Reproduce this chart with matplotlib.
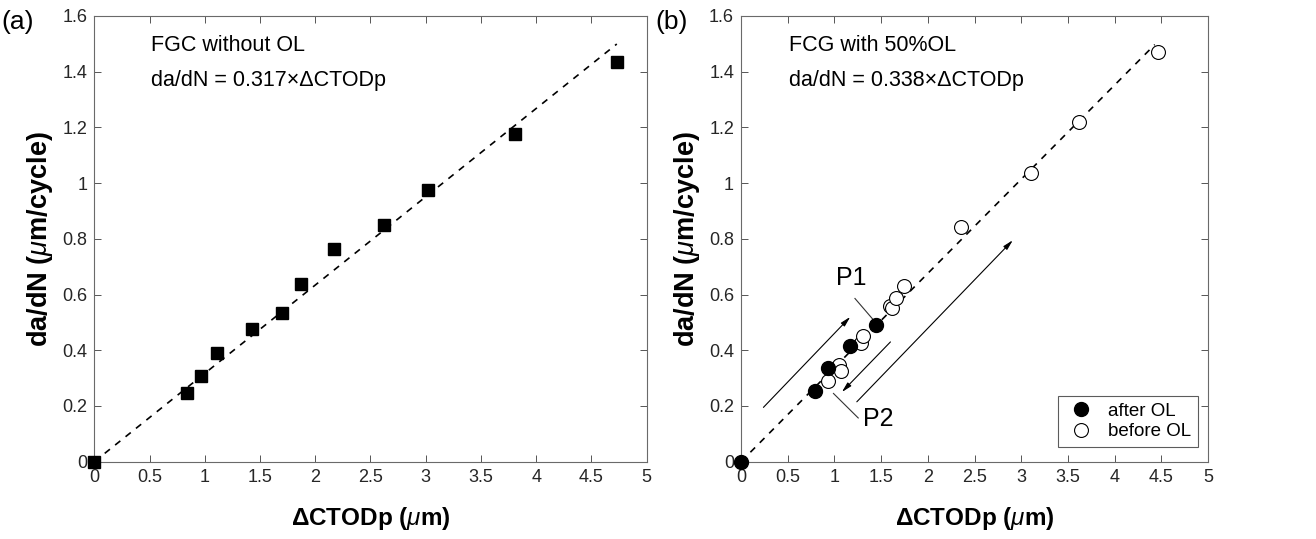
import numpy as np
import matplotlib
matplotlib.use("Agg")
import matplotlib.pyplot as plt

plt.rcParams['font.family'] = ['Liberation Sans', 'DejaVu Sans']
plt.rcParams['mathtext.fontset'] = 'custom'
plt.rcParams['mathtext.it'] = 'Liberation Sans:italic'
plt.rcParams['mathtext.rm'] = 'Liberation Sans'

# ---- data: (a) without overload ----
x_a = [0, 0.84, 0.97, 1.11, 1.43, 1.70, 1.87, 2.17, 2.62, 3.02, 3.81, 4.73]
y_a = [0, 0.245, 0.308, 0.389, 0.475, 0.533, 0.637, 0.765, 0.849, 0.975, 1.175, 1.434]
slope_a = 0.317
fit_a_end = 4.73

# ---- data: (b) with 50% overload ----
x_after = [0, 0.79, 0.935, 1.17, 1.45]
y_after = [0, 0.255, 0.337, 0.414, 0.49]
x_before = [0.935, 1.05, 1.075, 1.29, 1.31, 1.59, 1.615, 1.655, 1.75, 2.355, 3.11, 3.62, 4.465]
y_before = [0.29, 0.347, 0.327, 0.425, 0.452, 0.559, 0.55, 0.589, 0.631, 0.842, 1.035, 1.218, 1.470]
slope_b = 0.338
fit_b_end = 4.43

xticks = [0, 0.5, 1, 1.5, 2, 2.5, 3, 3.5, 4, 4.5, 5]
xticklabels = ['0', '0.5', '1', '1.5', '2', '2.5', '3', '3.5', '4', '4.5', '5']
yticks = [0, 0.2, 0.4, 0.6, 0.8, 1, 1.2, 1.4, 1.6]
yticklabels = ['0', '0.2', '0.4', '0.6', '0.8', '1', '1.2', '1.4', '1.6']

W, H = 1316, 539
fig = plt.figure(figsize=(W / 100, H / 100), dpi=100)
ax1 = fig.add_axes([94.3 / W, 1 - 461.7 / H, 552.3 / W, 445.7 / H])
ax2 = fig.add_axes([741 / W, 1 - 461.7 / H, 467 / W, 445.7 / H])


def style(ax):
    ax.set_xlim(0, 5)
    ax.set_ylim(0, 1.6)
    ax.set_xticks(xticks)
    ax.set_xticklabels(xticklabels)
    ax.set_yticks(yticks)
    ax.set_yticklabels(yticklabels)
    ax.tick_params(direction='in', top=True, right=True, length=5, width=0.7,
                   color='#555555', labelcolor='#262626', labelsize=13, pad=5)
    for s in ax.spines.values():
        s.set_color('#6a6a6a')
        s.set_linewidth(0.8)
    ax.set_xlabel(r'ΔCTODp ($\mu$m)', fontsize=17.5, fontweight='bold', labelpad=14)
    ax.set_ylabel(r'da/dN ($\mu$m/cycle)', fontsize=19.5, fontweight='bold', labelpad=5)


# (a)
style(ax1)
xf = np.array([0, fit_a_end])
ax1.plot(xf, slope_a * xf, 'k--', lw=1.2, dashes=(4, 4))
ax1.plot(x_a, y_a, 's', color='k', ms=9, clip_on=False, zorder=3)
ax1.text(0.51, 1.495, 'FGC without OL', fontsize=15.5, va='center')
ax1.text(0.51, 1.37, 'da/dN = 0.317×ΔCTODp', fontsize=15.5, va='center')

# (b)
style(ax2)
xf = np.array([0, fit_b_end])
ax2.plot(xf, slope_b * xf, 'k--', lw=1.2, dashes=(4, 4))
ax2.plot(x_before, y_before, 'o', mfc='white', mec='k', mew=0.8, ms=10,
         label='before OL', zorder=3)
ax2.plot(x_after, y_after, 'o', color='k', ms=10, label='after OL',
         clip_on=False, zorder=4)
ax2.text(0.51, 1.495, 'FCG with 50%OL', fontsize=15.5, va='center')
ax2.text(0.51, 1.37, 'da/dN = 0.338×ΔCTODp', fontsize=15.5, va='center')

arrow = dict(arrowstyle='-|>,head_length=0.6,head_width=0.15', color='k', lw=0.8,
             shrinkA=0, shrinkB=0)
ax2.annotate('', xy=(1.17, 0.52), xytext=(0.24, 0.195), arrowprops=arrow)
ax2.annotate('', xy=(1.08, 0.25), xytext=(1.6, 0.43), arrowprops=arrow)
ax2.annotate('', xy=(2.91, 0.795), xytext=(1.24, 0.215), arrowprops=arrow)
ax2.plot([1.22, 1.415], [0.586, 0.51], color='#333333', lw=0.8)
ax2.plot([0.99, 1.255], [0.245, 0.157], color='#333333', lw=0.8)
ax2.text(1.185, 0.658, 'P1', fontsize=18, ha='center', va='center')
ax2.text(1.47, 0.152, 'P2', fontsize=18, ha='center', va='center')

h, l = ax2.get_legend_handles_labels()
leg = ax2.legend(h[::-1], l[::-1], loc='lower right', bbox_to_anchor=(0.978, 0.033),
                 fontsize=13.5, frameon=True, fancybox=False, handletextpad=0.6,
                 handlelength=1.7, borderpad=0.35, labelspacing=0.2, borderaxespad=0)
leg.get_frame().set_edgecolor('#333333')
leg.get_frame().set_linewidth(0.8)

fig.text(1 / W, 1 - 22 / H, '(a)', fontsize=19, va='center', ha='left')
fig.text(655 / W, 1 - 22 / H, '(b)', fontsize=19, va='center', ha='left')

fig.savefig('out.png', dpi=100)
